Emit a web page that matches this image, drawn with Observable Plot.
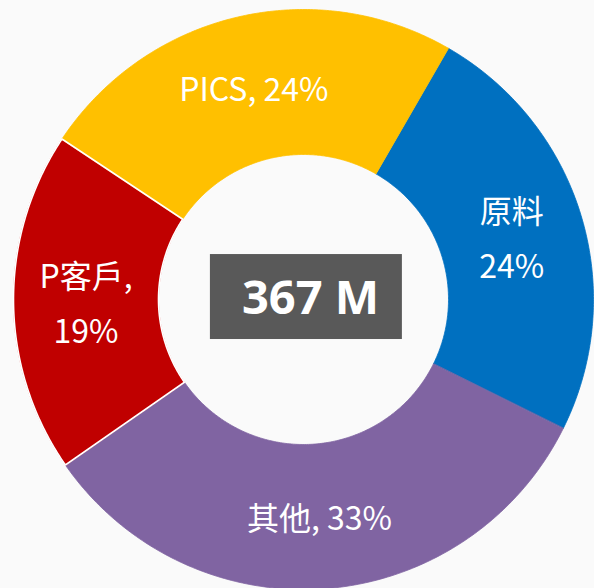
<!DOCTYPE html>
<html><head><meta charset="utf-8">
<script src="https://cdn.jsdelivr.net/npm/d3@7"></script>
<script src="https://cdn.jsdelivr.net/npm/@observablehq/plot@0.6"></script>
<style>
html,body{margin:0;padding:0;background:#fafafa;}
#chart{width:594px;height:588px;overflow:hidden;}
#chart svg{display:block;background:transparent;}
</style></head><body><div id="chart"></div>
<script>
// ---- data ----
const categories = ["原料", "其他", "P客戶", "PICS"];
const shares = [24, 33, 19, 24];
const sliceColors = ["#0070C0", "#8064A2", "#C00000", "#FFC000"];
const sliceLabels = ["原料\n24%", "其他, 33%", "P客戶,\n19%", "PICS, 24%"];
const totalLabel = ["367 M"];

// ---- layout ----
const START = Math.PI / 6;      // first slice starts at 30° clockwise from 12 o'clock
const INNER = 0.5;              // inner radius / outer radius
const BOX = {x1: -0.321, x2: 0.341, y1: 0.155, y2: -0.138};

const arcs = d3.pie().sort(null).startAngle(START).endAngle(START + 2 * Math.PI)(shares);

const polygons = [];
arcs.forEach((a, i) => {
  const n = 160;
  for (let k = 0; k <= n; k++) {
    const t = a.startAngle + (a.endAngle - a.startAngle) * k / n;
    polygons.push({name: categories[i], color: sliceColors[i], x: Math.sin(t), y: Math.cos(t)});
  }
  for (let k = n; k >= 0; k--) {
    const t = a.startAngle + (a.endAngle - a.startAngle) * k / n;
    polygons.push({name: categories[i], color: sliceColors[i], x: INNER * Math.sin(t), y: INNER * Math.cos(t)});
  }
});
const labelPts = arcs.map((a, i) => {
  const m = (a.startAngle + a.endAngle) / 2, r = (1 + INNER) / 2;
  return {label: sliceLabels[i], x: r * Math.sin(m), y: r * Math.cos(m)};
});

const chart = Plot.plot({
  width: 594,
  height: 588,
  margin: 0,
  x: {domain: [-1, 1], range: [13, 593], axis: null},
  y: {domain: [-1, 1], range: [589, 9], axis: null},
  color: {type: "identity"},
  style: {background: "transparent"},
  marks: [
    Plot.line(polygons, {x: "x", y: "y", z: "name", fill: "color", stroke: "color", strokeWidth: 0.8, curve: "linear-closed"}),
    Plot.line(polygons.filter(d => d.name === "P客戶"), {x: "x", y: "y", z: "name", fill: "none", stroke: "white", strokeWidth: 1.6, curve: "linear-closed"}),
    Plot.text(labelPts, {x: "x", y: "y", text: "label", fill: "white", fontSize: 32, lineHeight: 1.72, dy: -4,
      fontFamily: "'Noto Sans CJK TC', 'Noto Sans', sans-serif"}),
    Plot.rect(totalLabel, {x1: () => BOX.x1, x2: () => BOX.x2, y1: () => BOX.y1, y2: () => BOX.y2, fill: "#595959"}),
    Plot.text(totalLabel, {x: () => 0, y: () => 0, text: d => d, fill: "white", fontSize: 47, fontWeight: "bold", dx: 7, dy: -1,
      fontFamily: "'Open Sans', 'Noto Sans', sans-serif"})
  ]
});
document.getElementById("chart").appendChild(chart);
</script>
</body></html>
